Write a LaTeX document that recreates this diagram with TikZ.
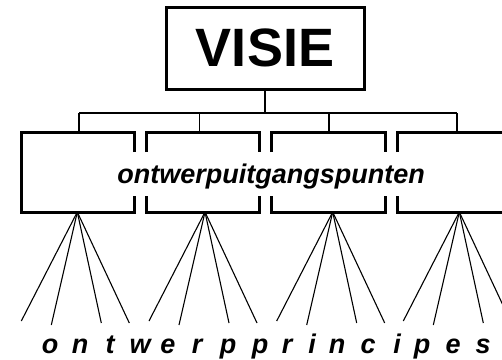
\documentclass[tikz,border=0pt]{standalone}
\usepackage{fontspec}
\setmainfont{Liberation Sans}
\usetikzlibrary{calc}
\tikzset{every node/.style={inner sep=0pt, outer sep=0pt},
  frame/.style={line width=3pt, line join=miter},
  tree/.style={line width=1.3pt},
  spoke/.style={line width=1.1pt},
  vak/.style={minimum width=113.3pt, minimum height=80pt},
  letter/.style={font=\fontsize{27}{30}\selectfont\bfseries\itshape}}

\begin{document}
\begin{tikzpicture}[x=1pt,y=-1pt]
  \useasboundingbox (0,0) rectangle (502,359);
  \clip (0,0) rectangle (502,359);
  \node[frame, draw, minimum width=198pt, minimum height=82pt,
    font=\fontsize{54}{60}\selectfont\bfseries] (visie) at (265,48) {VISIE};
  \foreach \i/\x in {1/77.65,2/203.05,3/328.45,4/453.85} \node[vak] (b\i) at (\x,172) {};
  \node[letter, anchor=base] (ogp) at (271,183) {ontwerpuitgangspunten};
  % vakken, open waar de tekst doorloopt
  \draw[frame] ($(b1.east)+(0,-20)$) |- (b1.north west) |- (b1.south east) -- ($(b1.east)+(0,24)$);
  \foreach \i in {2,3} {
    \draw[frame] ($(b\i.west)+(0,-20)$) |- (b\i.north east) -- ($(b\i.east)+(0,-20)$);
    \draw[frame] ($(b\i.west)+(0,24)$) |- (b\i.south east) -- ($(b\i.east)+(0,24)$);
  }
  \draw[frame] ($(b4.west)+(0,-20)$) |- (b4.north east) |- (b4.south west) -- ($(b4.west)+(0,24)$);
  % boom
  \coordinate (bus) at (265,113);
  \draw[tree] (visie.south) -- (bus);
  \foreach \i/\dx in {1/1.35,2/-3.75,3/0.55,4/3.15} \coordinate (d\i) at ($(b\i.north)+(\dx,0)$);
  \draw[tree] (d1 |- bus) -- (d4 |- bus);
  \foreach \i in {1,...,4} \draw[tree] (d\i |- bus) -- (d\i);
  % waaiers
  \foreach \i/\dx in {1/-0.35,2/1.95,3/4.25,4/5.45} {
    \coordinate (a\i) at ($(b\i.south)+(\dx,0)$);
    \foreach \u/\v in {-56/109,-26/113,24/111,52/111} \draw[spoke] (a\i) -- ++(\u,\v);
  }
  \foreach \x/\c [count=\k] in {50/o,80/n,110/t,140/w,168/e,197/r,228/p,260/p,287/r,312/i,337/n,368/c,397/i,422/p,453/e,483/s}
    \node[letter, anchor=base] (l\k) at (\x,353) {\c};
\end{tikzpicture}
\end{document}
